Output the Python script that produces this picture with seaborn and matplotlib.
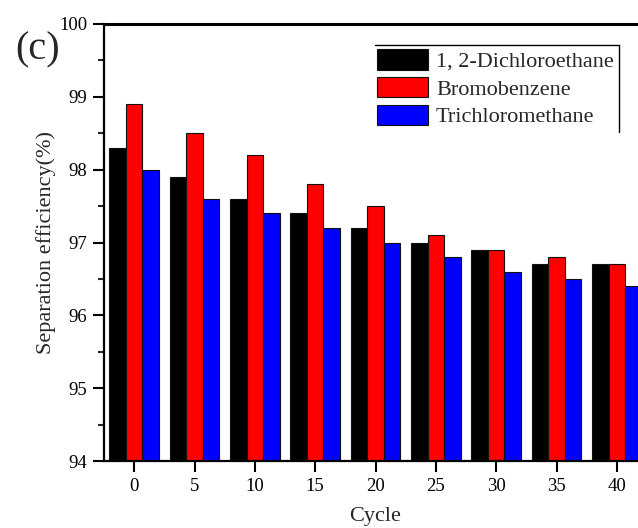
import matplotlib
matplotlib.use("Agg")
import matplotlib.pyplot as plt
import matplotlib.lines as mlines
import seaborn as sns
import pandas as pd

# Separation efficiency (%) after each cycle count
cycles = [0, 5, 10, 15, 20, 25, 30, 35, 40]
solvents = ["1, 2-Dichloroethane", "Bromobenzene", "Trichloromethane"]
dichloroethane = [98.3, 97.9, 97.6, 97.4, 97.2, 97.0, 96.9, 96.7, 96.7]
bromobenzene = [98.9, 98.5, 98.2, 97.8, 97.5, 97.1, 96.9, 96.8, 96.7]
trichloromethane = [98.0, 97.6, 97.4, 97.2, 97.0, 96.8, 96.6, 96.5, 96.4]
colors = ["#000000", "#ff0000", "#0000ff"]

df = pd.DataFrame({
    "Cycle": cycles * 3,
    "Solvent": [s for s in solvents for _ in cycles],
    "Efficiency": dichloroethane + bromobenzene + trichloromethane,
})

sns.set_theme(style="ticks")
plt.rcParams["font.family"] = ["Liberation Serif", "DejaVu Serif"]

fig = plt.figure(figsize=(6.38, 5.28), dpi=100)
W, H = 638, 528
# axes box runs past the right edge of the canvas
ax = fig.add_axes([104 / W, 1 - 461 / H, 543 / W, (461 - 24) / H])

sns.barplot(data=df, x="Cycle", y="Efficiency", hue="Solvent",
            palette=colors, hue_order=solvents, width=0.82,
            edgecolor="#111111", linewidth=0.8, saturation=1,
            legend=False, ax=ax)

ax.set_ylim(94, 100)
ax.set_xlim(-0.5, 8.5)
ax.set_yticks([94, 95, 96, 97, 98, 99, 100])
ax.set_yticks([94.5, 95.5, 96.5, 97.5, 98.5, 99.5], minor=True)
ax.tick_params(axis="both", which="major", direction="out", length=8,
               width=1.5, labelsize=13.5, colors="black", pad=4)
ax.tick_params(axis="y", which="minor", direction="out", length=4,
               width=1.5)
ax.tick_params(axis="x", which="minor", length=0)

for side in ("left", "top", "bottom"):
    ax.spines[side].set_linewidth(1.6)
    ax.spines[side].set_color("black")
ax.spines["top"].set_linewidth(2.2)
ax.spines["right"].set_visible(False)
ax.spines["top"].set_visible(True)

ax.set_xlabel("Cycle", fontsize=16)
ax.set_ylabel("Separation efficiency(%)", fontsize=16)
ax.xaxis.set_label_coords(0.5, -0.106)
ax.yaxis.set_label_coords(-0.088, 0.5)

# panel tag
fig.text(38 / W, 1 - 50 / H, "(c)", fontsize=29, ha="center", va="center")

handles = [plt.Rectangle((0, 0), 1, 1, facecolor=c, edgecolor="#111111",
                         linewidth=0.8) for c in colors]
leg = fig.legend(handles, solvents, loc="upper left",
                 bbox_to_anchor=(377 / W, 1 - 49 / H), frameon=False,
                 fontsize=16, handlelength=2.3, handleheight=1.05,
                 handletextpad=0.35, labelspacing=0.22, borderpad=0,
                 borderaxespad=0)

# legend box outline (top and right edges)
fig.add_artist(mlines.Line2D([375 / W, 619 / W], [1 - 45 / H, 1 - 45 / H],
                             transform=fig.transFigure, color="black", lw=1))
fig.add_artist(mlines.Line2D([619 / W, 619 / W], [1 - 45 / H, 1 - 132 / H],
                             transform=fig.transFigure, color="black", lw=1))

fig.savefig("out.png", dpi=100)
